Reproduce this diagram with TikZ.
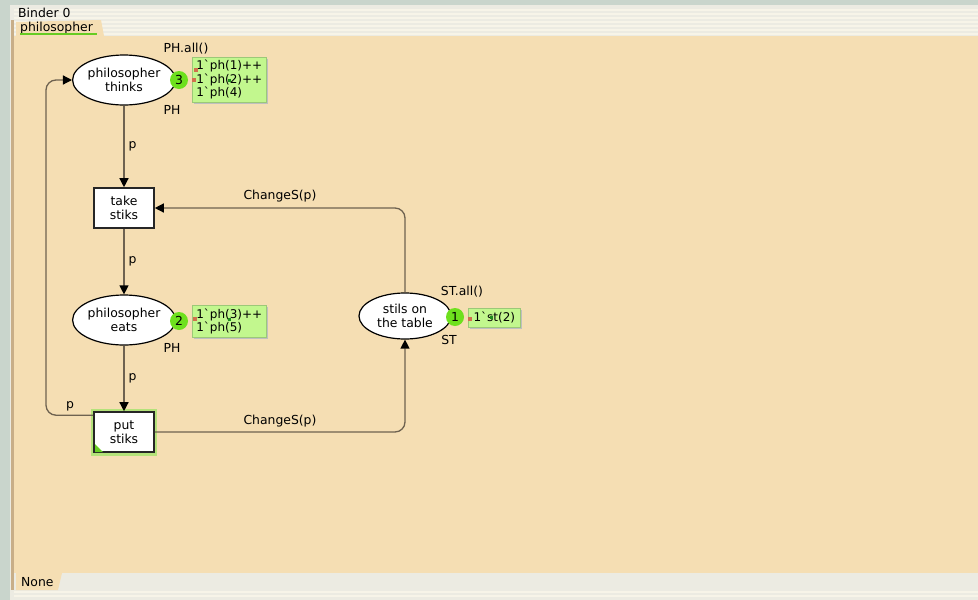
\documentclass[tikz,border=0pt]{standalone}
\usepackage{fontspec}
\setmainfont{DejaVu Sans}[Ligatures=TeXOff]
\usetikzlibrary{arrows.meta,shapes.geometric}

\definecolor{frame}{HTML}{C9D5CC}
\definecolor{winbg}{HTML}{ECEBE2}
\definecolor{stripe}{HTML}{F7F4E8}
\definecolor{panel}{HTML}{F5DEB3}
\definecolor{paneledge}{HTML}{C8AE88}
\definecolor{tabline}{HTML}{66CC22}
\definecolor{arcgrey}{HTML}{6E6250}
\definecolor{tokgreen}{HTML}{6EE01E}
\definecolor{markfill}{HTML}{C2F78E}
\definecolor{markedge}{HTML}{9CC878}
\definecolor{pin}{HTML}{D0704C}
\definecolor{pindark}{HTML}{1E8C1E}
\definecolor{glow}{HTML}{B4E27A}

\begin{document}
\begin{tikzpicture}[x=1pt,y=-1pt,
  font=\fontsize{12.4}{13.5}\selectfont,
  place/.style={ellipse, draw=black, fill=white, line width=1.2pt,
    minimum width=102, minimum height=50, align=center, inner sep=0pt},
  transbox/.style={rectangle, draw=black!85, fill=white, line width=1.6pt,
    minimum width=60, minimum height=40, align=center, inner sep=0pt},
  token/.style={circle, fill=tokgreen, minimum size=18, inner sep=0pt},
  marking/.style={anchor=north west, fill=markfill, draw=markedge, line width=0.6pt,
    inner xsep=3pt, inner ysep=2pt, align=left,
    font=\fontsize{12}{13.5}\selectfont},
  inscr/.style={inner sep=0pt},
  arc/.style={draw=arcgrey, line width=1.3pt, rounded corners=10pt,
    -{Triangle[length=9pt,width=9pt,color=black]}},
  pinsq/.style={fill=pin, minimum size=4, inner sep=0pt},
]
\useasboundingbox (0,0) rectangle (978,600);

% window frame and striped header
\fill[frame] (0,0) rectangle (978,600);
\fill[winbg] (10,5) rectangle (978,600);
\foreach \yy in {9,13,...,33} {\fill[stripe] (14,\yy) rectangle (978,\yy+2);}
\foreach \yy in {591,595} {\fill[stripe] (14,\yy) rectangle (978,\yy+2);}
\fill[paneledge] (11,20) rectangle (14,590);
\fill[panel] (14,36) rectangle (978,573);
\node[anchor=west, inner sep=0pt] (binder) at (18,13) {Binder 0};
\fill[panel] (16,36) -- (16,22) -- (101,20) -- (104,36) -- cycle;
\node[anchor=west, inner sep=0pt] (tab) at (20,28) {philosopher};
\fill[tabline] (20,33) rectangle (97,35);
\fill[panel] (16,573) -- (16,590) -- (58,590) -- (62,573) -- cycle;
\node[anchor=west, inner sep=0pt] (none) at (21,582) {None};

% places
\node[place] (thinks) at (124,80) {philosopher\\thinks};
\node[place] (eats)   at (124,320) {philosopher\\eats};
\node[place, minimum width=92, minimum height=46] (table) at (405,316) {stils on\\the table};

% transitions
\fill[glow] (91,409) rectangle (157,456);
\node[transbox] (put) at (124,432) {put\\stiks};
\fill[tabline] (95,452) -- (95,444) -- (103,452) -- cycle;
\node[transbox] (take) at (124,208) {take\\stiks};

% arcs
\draw[arc] (thinks) -- (take) node[midway, right=4pt, inscr] {p};
\draw[arc] (take) -- (eats) node[midway, right=4pt, inscr] {p};
\draw[arc] (eats) -- (put) node[midway, right=4pt, inscr] {p};
\coordinate (loop) at (46,80);
\draw[arc] ([yshift=-4pt]put.north west) -| (loop) -- (thinks.west);
\node[inscr] (lp) at (70,406) {p};
\draw[arc] (put.east) -| (table.south);
\node[inscr] (lput) at (280,421) {ChangeS(p)};
\draw[arc] (table.north) |- (take.east);
\node[inscr] (ltake) at (280,196) {ChangeS(p)};

% place inscriptions
\node[inscr] (thinksinit) at (186,49) {PH.all()};
\node[inscr] (thinkstype) at (172,110) {PH};
\node[inscr] (eatstype) at (172,348) {PH};
\node[inscr] (tableinit) at (462,292) {ST.all()};
\node[inscr] (tabletype) at (449,340) {ST};

% current markings
\fill[black!25] (194,59) rectangle (268,104);
\node[marking, minimum width=74, minimum height=45] (m1) at (192,57)
  {1`ph(1)++\\1`ph(2)++\\1`ph(4)};
\node[token] (t1) at (179,80) {3};
\node[pinsq] (p1a) at (196,70) {};
\node[pinsq] (p1b) at (194,80) {};
\fill[pindark] (228,79) rectangle (231,82);

\fill[black!25] (194,307) rectangle (268,339);
\node[marking, minimum width=74, minimum height=32] (m2) at (192,305)
  {1`ph(3)++\\1`ph(5)};
\node[token] (t2) at (179,321) {2};
\node[pinsq] (p2) at (195,319) {};
\fill[pindark] (228,318) rectangle (231,321);

\fill[black!25] (470,310) rectangle (522,329);
\node[marking, minimum width=52, minimum height=19] (m3) at (468,308) {1`st(2)};
\node[token] (t3) at (455,317) {1};
\node[pinsq] (p3) at (470,319) {};
\fill[pindark] (490,316) rectangle (493,319);
\end{tikzpicture}
\end{document}
